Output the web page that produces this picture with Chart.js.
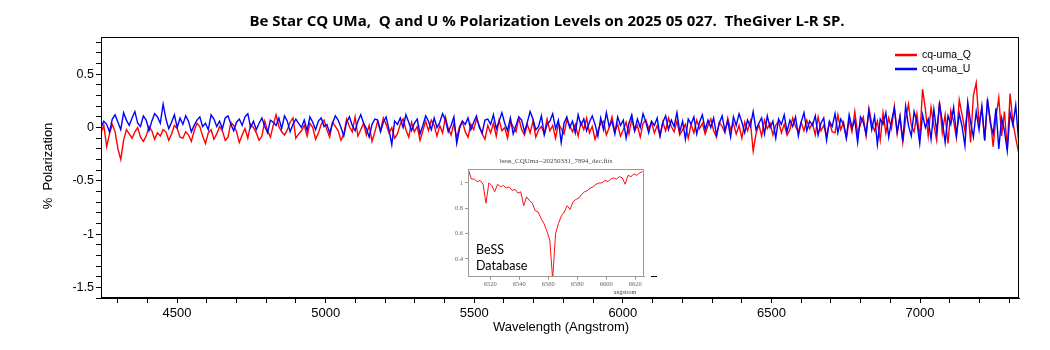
<!DOCTYPE html>
<html>
<head>
<meta charset="utf-8">
<script src="https://cdn.jsdelivr.net/npm/chart.js@4"></script>
<style>
  html, body { margin: 0; padding: 0; background: #fff; }
  #wrap { position: relative; width: 1050px; height: 350px; }
  #mainChart { position: absolute; left: 0; top: 0; }
  #insetChart { position: absolute; left: 440px; top: 150px; }
</style>
</head>
<body>
<div id="wrap">
  <canvas id="mainChart" width="1050" height="350"></canvas>
  <canvas id="insetChart" width="220" height="150"></canvas>
</div>
<script>
// wavelength grid of the polarization data (Angstrom)
const waveStart = 4244;
const waveStep = 9.5;

// Q % polarization, ten samples per row
const qValues = [
  -0.05, 0.02, -0.18, -0.06, 0.03, -0.04, -0.20, -0.30, -0.12, -0.02,
  -0.06, -0.10, -0.04, 0.00, -0.09, -0.13, -0.08, 0.01, -0.03, -0.11,
  -0.05, -0.08, -0.02, -0.04, -0.12, -0.06, 0.02, -0.01, -0.09, -0.10,
  -0.04, -0.07, -0.13, -0.03, 0.04, 0.01, -0.08, -0.15, -0.05, -0.02,
  -0.11, -0.06, 0.01, -0.03, -0.12, -0.09, 0.05, 0.02, -0.04, -0.14,
  -0.07, -0.01, -0.10, 0.03, 0.00, -0.05, -0.12, -0.08, 0.06, -0.03,
  -0.09, 0.02, 0.12, 0.01, -0.04, -0.07, -0.02, 0.05, 0.09, -0.10,
  -0.06, -0.03, 0.02, -0.08, 0.04, 0.00, -0.11, -0.05, 0.03, 0.07,
  -0.02, -0.09, 0.05, 0.01, -0.03, -0.12, -0.06, 0.08, 0.01, -0.04,
  0.10, -0.08, -0.02, 0.04, -0.07, 0.02, -0.13, -0.04, 0.06, -0.03,
  0.09, 0.03, -0.05, 0.00, -0.10, -0.06, 0.03, 0.08, -0.02, -0.09,
  0.05, -0.04, 0.01, -0.12, -0.03, 0.06, -0.03, 0.07, 0.02, -0.08,
  0.02, -0.05, 0.10, -0.01, -0.07, 0.04, -0.10, 0.01, 0.06, -0.04,
  -0.09, 0.03, -0.02, 0.08, 0.02, -0.06, -0.11, 0.02, -0.05, 0.04,
  -0.08, 0.07, -0.03, 0.00, -0.10, 0.05, 0.01, -0.04, 0.09, -0.02,
  -0.07, 0.03, -0.05, 0.06, -0.09, -0.02, 0.01, -0.06, 0.08, -0.03,
  0.02, -0.10, 0.04, -0.01, -0.06, 0.07, 0.02, -0.04, 0.03, -0.08,
  0.05, -0.02, 0.09, -0.05, 0.01, -0.11, -0.03, 0.04, 0.06, -0.07,
  0.00, 0.10, -0.04, 0.03, -0.08, -0.02, 0.05, -0.06, 0.08, -0.03,
  0.02, -0.09, 0.04, 0.07, -0.01, 0.05, -0.05, 0.02, -0.08, 0.05,
  -0.03, 0.09, 0.01, -0.04, 0.06, -0.07, -0.02, 0.03, -0.10, 0.03,
  -0.05, 0.07, -0.01, 0.04, -0.06, 0.02, 0.08, -0.03, -0.09, 0.05,
  0.01, -0.05, 0.09, -0.02, 0.04, -0.06, 0.02, -0.10, 0.05, -0.03,
  0.06, -0.22, -0.06, 0.03, -0.08, 0.07, -0.01, 0.04, -0.07, 0.02,
  0.06, -0.05, 0.03, -0.07, -0.02, 0.09, 0.01, -0.04, 0.05, -0.03,
  0.07, -0.01, 0.04, -0.07, 0.10, -0.03, 0.02, -0.08, 0.05, -0.04,
  -0.05, 0.12, -0.02, 0.05, -0.10, 0.07, -0.04, 0.15, -0.06, 0.03,
  0.10, -0.08, 0.18, 0.04, -0.03, 0.06, -0.12, 0.14, -0.05, 0.09,
  -0.01, 0.20, -0.06, 0.11, -0.14, 0.08, 0.22, 0.02, -0.04, 0.13,
  -0.10, 0.36, 0.17, -0.08, 0.19, 0.02, -0.12, 0.24, -0.05, 0.12,
  -0.15, 0.16, 0.06, -0.10, 0.26, 0.12, -0.03, 0.20, -0.14, 0.30,
  0.42, 0.04, 0.18, -0.12, 0.25, 0.08, -0.18, 0.10, 0.28, -0.08,
  0.15, -0.20, 0.32, 0.05, -0.10, -0.23
];

// U % polarization, same grid
const uValues = [
  0.00, 0.06, 0.03, -0.04, 0.08, 0.12, 0.05, -0.02, 0.14, 0.07,
  0.02, 0.09, 0.15, 0.04, 0.01, 0.11, 0.07, -0.03, 0.06, 0.13,
  0.10, 0.04, 0.22, 0.08, -0.01, 0.05, 0.12, 0.00, 0.09, 0.03,
  0.11, 0.06, -0.04, 0.02, 0.07, 0.10, 0.01, 0.04, -0.02, 0.12,
  0.08, 0.01, 0.06, -0.01, 0.09, 0.11, 0.03, -0.03, 0.05, 0.08,
  0.02, 0.10, 0.13, 0.00, 0.06, -0.02, 0.04, 0.09, 0.01, -0.05,
  0.07, 0.05, 0.02, 0.09, -0.01, 0.11, 0.06, -0.04, 0.03, 0.08,
  0.04, 0.00, 0.07, -0.03, 0.10, 0.05, -0.02, 0.06, 0.09, 0.01,
  0.03, -0.05, 0.04, 0.11, 0.07, 0.00, -0.08, 0.05, 0.10, 0.02,
  -0.03, 0.06, 0.12, 0.04, -0.01, -0.09, 0.03, 0.08, 0.07, -0.04,
  0.05, 0.10, -0.02, -0.16, 0.06, 0.03, 0.09, 0.00, 0.12, 0.05,
  -0.03, 0.04, 0.08, -0.06, 0.02, 0.11, 0.06, -0.02, 0.09, 0.00,
  0.05, 0.13, 0.07, -0.04, 0.02, 0.10, -0.15, -0.01, 0.06, 0.03,
  0.09, -0.02, 0.05, 0.11, 0.00, -0.05, 0.07, 0.08, 0.03, 0.12,
  -0.01, 0.06, 0.14, 0.04, -0.03, 0.09, -0.06, 0.02, 0.10, 0.07,
  -0.04, 0.05, 0.15, 0.08, -0.02, 0.01, 0.11, -0.07, 0.03, 0.06,
  0.13, -0.01, 0.07, -0.14, 0.04, 0.10, 0.00, 0.06, -0.05, 0.12,
  0.02, 0.08, -0.03, 0.05, 0.11, 0.03, -0.08, 0.09, -0.02, 0.14,
  0.01, 0.06, -0.06, 0.10, 0.02, 0.07, -0.10, 0.04, 0.12, -0.03,
  0.08, 0.00, 0.13, 0.05, -0.05, 0.06, 0.02, 0.09, -0.08, 0.05,
  0.11, -0.02, 0.07, 0.01, 0.14, -0.04, 0.06, -0.11, 0.08, 0.03,
  0.10, -0.06, 0.05, 0.12, -0.02, 0.07, 0.00, 0.09, -0.07, 0.04,
  0.11, -0.03, 0.06, -0.09, 0.10, 0.02, 0.13, 0.05, -0.05, 0.07,
  0.01, 0.15, -0.02, 0.04, 0.09, -0.06, 0.11, 0.00, 0.06, -0.10,
  0.08, 0.03, 0.12, -0.04, 0.07, 0.01, 0.10, -0.08, 0.05, 0.14,
  -0.03, 0.06, 0.02, 0.11, -0.07, 0.04, 0.09, -0.12, 0.06, 0.01,
  0.13, -0.05, 0.08, 0.03, -0.10, 0.12, 0.00, 0.07, -0.14, 0.10,
  0.05, -0.06, 0.16, -0.02, 0.11, -0.16, 0.08, 0.03, 0.14, -0.09,
  0.06, 0.18, -0.04, 0.10, -0.13, 0.20, 0.02, -0.08, 0.15, 0.05,
  -0.15, 0.12, 0.00, 0.08, -0.11, 0.17, -0.04, 0.22, 0.06, -0.14,
  0.11, 0.03, 0.19, -0.07, 0.13, 0.01, -0.17, 0.24, 0.05, -0.09,
  0.15, -0.02, 0.20, -0.12, 0.27, 0.04, -0.06, 0.18, -0.20, 0.09,
  -0.03, -0.22, 0.14, 0.02, 0.21, -0.12
];

// BeSS inset spectrum (normalised flux), 2 A steps from 6505 A
const bessStart = 6505;
const bessStep = 2;
const bessFlux = [
  1.10, 1.03, 1.03, 1.01, 1.02, 0.99, 0.84, 1.00, 0.98, 0.93,
  0.99, 0.97, 0.98, 0.96, 0.97, 0.94, 0.95, 0.92, 0.93, 0.82,
  0.89, 0.86, 0.84, 0.78, 0.77, 0.72, 0.68, 0.62, 0.55, 0.24,
  0.60, 0.68, 0.74, 0.77, 0.82, 0.79, 0.85, 0.87, 0.88, 0.91,
  0.93, 0.94, 0.96, 0.97, 0.99, 1.00, 1.00, 1.02, 1.01, 1.03,
  1.04, 1.03, 1.05, 1.04, 0.99, 1.06, 1.05, 1.07, 1.06, 1.08,
  1.09
];

const seriesNames = ['cq-uma_Q', 'cq-uma_U'];
const seriesColors = ['#ff0000', '#0000ff'];
const titleText = 'Be Star CQ UMa,  Q and U % Polarization Levels on 2025 05 027.  TheGiver L-R SP.';

Chart.defaults.font.family = "'Liberation Sans', Arial, sans-serif";
Chart.defaults.color = '#000';

function toPoints(values, start, step) {
  return values.map((v, i) => ({ x: start + i * step, y: v }));
}

// title, axis titles, legend and frame of the main plot
const mainDecor = {
  id: 'mainDecor',
  afterDraw(chart) {
    const ctx = chart.ctx;
    const a = chart.chartArea;
    ctx.save();
    ctx.strokeStyle = '#000';
    ctx.lineWidth = 1;
    ctx.strokeRect(Math.round(a.left) + 0.5, Math.round(a.top) + 0.5,
      Math.round(a.right - a.left) - 1, Math.round(a.bottom - a.top) - 1);

    ctx.fillStyle = '#000';
    ctx.textAlign = 'center';
    ctx.textBaseline = 'middle';
    ctx.font = "bold 15px 'Open Sans'";
    ctx.fillText(titleText, 547, 22);

    ctx.font = "13px 'Liberation Sans'";
    ctx.fillText('Wavelength (Angstrom)', 561, 327);
    ctx.translate(48, 166);
    ctx.rotate(-Math.PI / 2);
    ctx.fillText('%  Polarization', 0, 0);
    ctx.restore();

    ctx.save();
    ctx.font = "10.5px 'Liberation Sans'";
    ctx.textBaseline = 'middle';
    seriesNames.forEach((name, i) => {
      const y = 55 + i * 14;
      ctx.strokeStyle = seriesColors[i];
      ctx.lineWidth = 2.5;
      ctx.beginPath();
      ctx.moveTo(895, y);
      ctx.lineTo(917, y);
      ctx.stroke();
      ctx.fillStyle = '#000';
      ctx.fillText(name, 922, y);
    });
    ctx.restore();
  }
};

new Chart(document.getElementById('mainChart'), {
  type: 'line',
  data: {
    datasets: [{
      label: seriesNames[0],
      data: toPoints(qValues, waveStart, waveStep),
      borderColor: seriesColors[0],
      borderWidth: 1.4,
      order: 1
    }, {
      label: seriesNames[1],
      data: toPoints(uValues, waveStart, waveStep),
      borderColor: seriesColors[1],
      borderWidth: 1.4,
      order: 0
    }]
  },
  options: {
    responsive: false,
    animation: false,
    events: [],
    elements: { point: { radius: 0 }, line: { tension: 0 } },
    layout: { padding: { left: 0, top: 37, right: 31, bottom: 0 } },
    plugins: { legend: { display: false }, tooltip: { enabled: false } },
    scales: {
      x: {
        type: 'linear',
        min: 4244,
        max: 7333,
        afterFit: s => { s.height = 52; },
        border: { color: '#000', width: 1 },
        grid: { drawOnChartArea: false, color: '#000', tickLength: 5 },
        ticks: {
          stepSize: 100,
          maxTicksLimit: 100,
          autoSkip: false,
          maxRotation: 0,
          includeBounds: false,
          padding: 3,
          font: { size: 13 },
          callback: v => Math.abs(v / 500 - Math.round(v / 500)) < 1e-6 ? String(v) : ''
        }
      },
      y: {
        min: -1.6,
        max: 0.85,
        afterFit: s => { s.width = 101; },
        border: { color: '#000', width: 1 },
        grid: { drawOnChartArea: false, color: '#000', tickLength: 5 },
        ticks: {
          stepSize: 0.1,
          maxTicksLimit: 100,
          autoSkip: false,
          includeBounds: false,
          padding: 2,
          font: { size: 12.5 },
          callback: v => {
            const r = Math.round(v * 2) / 2;
            return Math.abs(v - r) < 1e-6 ? String(r === 0 ? 0 : r) : '';
          }
        }
      }
    }
  },
  plugins: [mainDecor]
});

// texts around the BeSS spectrum image
const insetDecor = {
  id: 'insetDecor',
  afterDraw(chart) {
    const ctx = chart.ctx;
    const a = chart.chartArea;
    ctx.save();
    ctx.strokeStyle = '#999';
    ctx.lineWidth = 1;
    ctx.strokeRect(Math.round(a.left) + 0.5, Math.round(a.top) + 0.5,
      Math.round(a.right - a.left) - 1, Math.round(a.bottom - a.top) - 1);

    ctx.fillStyle = '#444';
    ctx.textAlign = 'center';
    ctx.textBaseline = 'middle';
    ctx.font = "7px 'Liberation Serif'";
    ctx.fillText('bess_CQUma--20250331_7894_dec.fits', 116, 11);
    ctx.font = "6px 'Liberation Serif'";
    ctx.fillText('angstrom', 185, 142);

    ctx.fillStyle = '#000';
    ctx.textAlign = 'left';
    ctx.font = "12.5px Lato";
    ctx.fillText('BeSS', 36, 100);
    ctx.fillText('Database', 36, 116);

    ctx.strokeStyle = '#000';
    ctx.beginPath();
    ctx.moveTo(211, 126.5);
    ctx.lineTo(217, 126.5);
    ctx.stroke();
    ctx.restore();
  }
};

new Chart(document.getElementById('insetChart'), {
  type: 'line',
  data: {
    datasets: [{
      data: toPoints(bessFlux, bessStart, bessStep),
      borderColor: '#ff1010',
      borderWidth: 1
    }]
  },
  options: {
    responsive: false,
    animation: false,
    events: [],
    elements: { point: { radius: 0 }, line: { tension: 0 } },
    layout: { padding: { left: 0, top: 19, right: 16, bottom: 0 } },
    plugins: { legend: { display: false }, tooltip: { enabled: false } },
    scales: {
      x: {
        type: 'linear',
        min: 6504.6,
        max: 6626,
        afterFit: s => { s.height = 23.3; },
        border: { color: '#999', width: 1 },
        grid: { drawOnChartArea: false, color: '#999', tickLength: 3 },
        ticks: {
          stepSize: 20,
          includeBounds: false,
          autoSkip: false,
          maxRotation: 0,
          padding: 1,
          color: '#666',
          font: { size: 6.5, family: "'Liberation Serif'" },
          callback: v => String(v)
        }
      },
      y: {
        min: 0.26,
        max: 1.11,
        afterFit: s => { s.width = 28; },
        border: { color: '#999', width: 1 },
        grid: { drawOnChartArea: false, color: '#999', tickLength: 3 },
        ticks: {
          stepSize: 0.2,
          includeBounds: false,
          autoSkip: false,
          padding: 2,
          color: '#666',
          font: { size: 6.5, family: "'Liberation Serif'" },
          callback: v => String(Math.round(v * 10) / 10)
        }
      }
    }
  },
  plugins: [insetDecor]
});
</script>
</body>
</html>
